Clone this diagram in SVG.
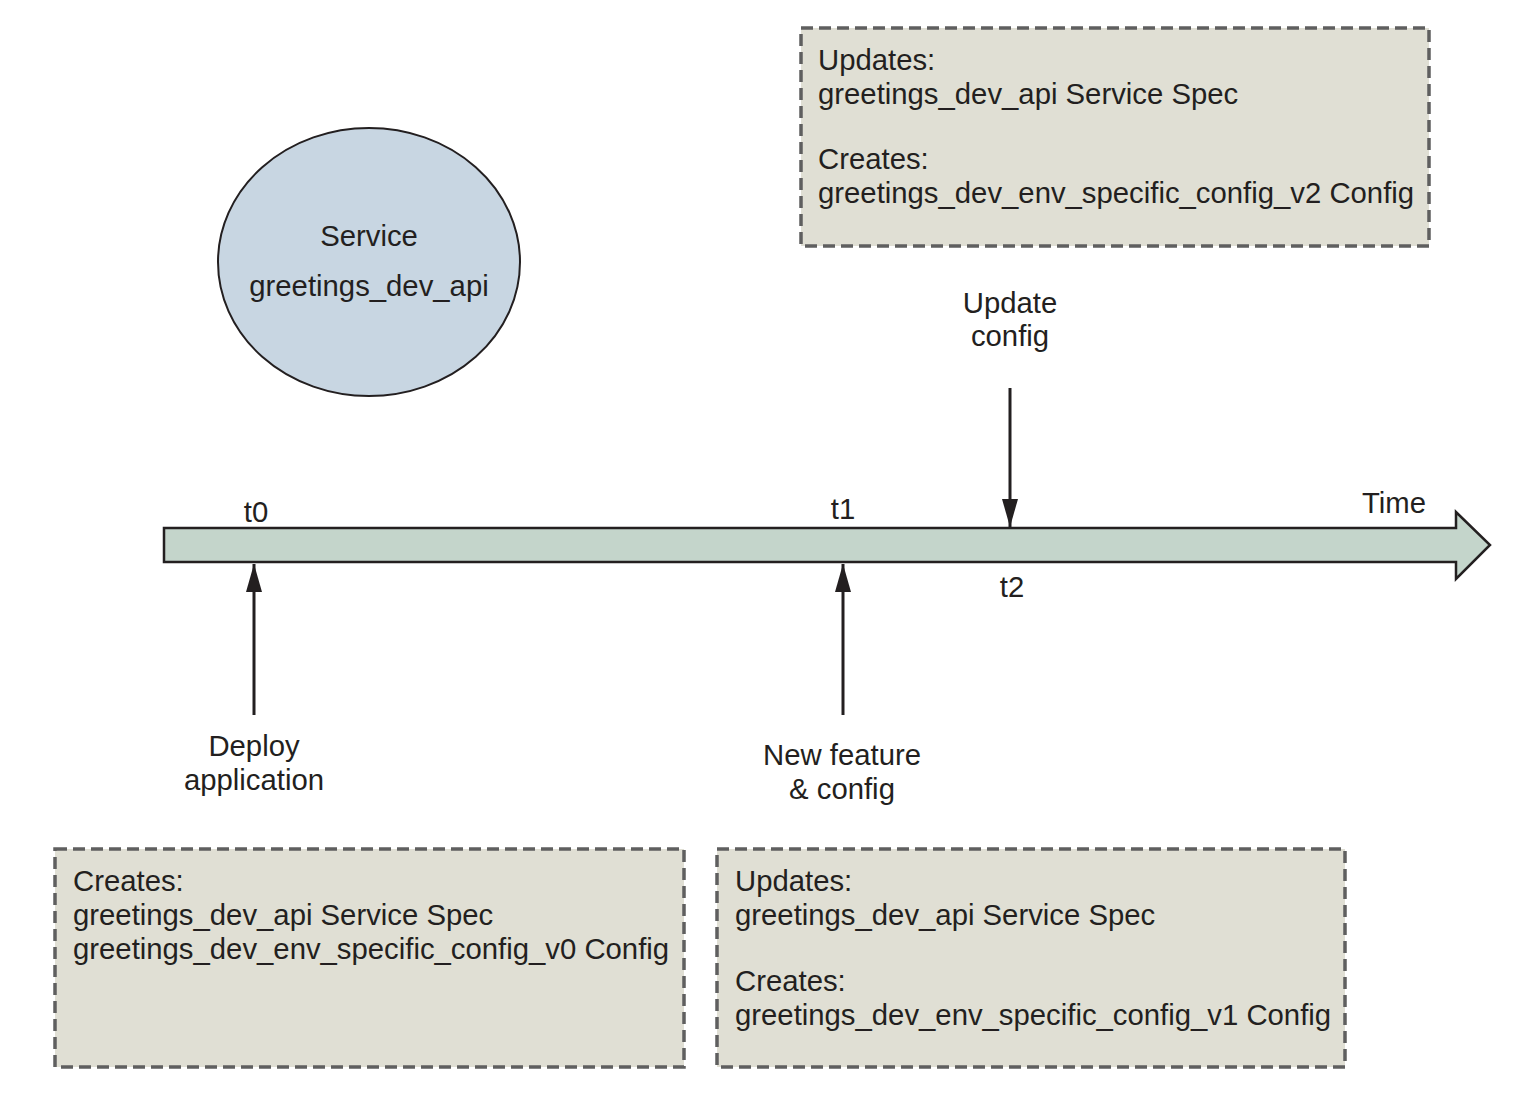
<svg xmlns="http://www.w3.org/2000/svg" width="1531" height="1095" viewBox="0 0 1531 1095">
<style>
text{font-family:"Liberation Sans",Arial,sans-serif;font-size:29.3px;fill:#231f20}
.c{text-anchor:middle}
.box{fill:#e0dfd4;stroke:#5f5f5f;stroke-width:3.5;stroke-dasharray:12 6}
.conn{stroke:#231f20;stroke-width:3;fill:none}
</style>
<defs>
<marker id="ah" markerWidth="28" markerHeight="16" refX="28" refY="8" orient="auto" markerUnits="userSpaceOnUse" viewBox="0 0 28 16">
<path d="M0,0 L28,8 L0,16 Z" fill="#231f20"/>
</marker>
</defs>
<rect width="1531" height="1095" fill="#fff"/>
<g id="service">
<ellipse cx="369" cy="262" rx="151" ry="134" fill="#c8d6e2" stroke="#231f20" stroke-width="2"/>
<text class="c" x="369" y="246">Service</text>
<text class="c" x="369" y="296">greetings_dev_api</text>
</g>
<g id="timeline">
<path d="M164,528 L1456,528 L1456,512 L1490,545 L1456,579 L1456,562 L164,562 Z" fill="#c4d5cb" stroke="#231f20" stroke-width="2.5"/>
<text class="c" x="1394" y="513">Time</text>
<text class="c" x="256" y="522">t0</text>
<text class="c" x="843" y="519">t1</text>
<text class="c" x="1012" y="597">t2</text>
</g>
<g id="connectors">
<line class="conn" x1="254" y1="715" x2="254" y2="564" marker-end="url(#ah)"/>
<line class="conn" x1="843" y1="715" x2="843" y2="564" marker-end="url(#ah)"/>
<line class="conn" x1="1010" y1="388" x2="1010" y2="527" marker-end="url(#ah)"/>
</g>
<g id="label-deploy">
<text class="c" x="254" y="756">Deploy</text>
<text class="c" x="254" y="790">application</text>
</g>
<g id="label-newfeature">
<text class="c" x="842" y="765">New feature</text>
<text class="c" x="842" y="799">&amp; config</text>
</g>
<g id="label-update">
<text class="c" x="1010" y="313">Update</text>
<text class="c" x="1010" y="346">config</text>
</g>
<g id="box-t2">
<rect class="box" x="801" y="28" width="628" height="218"/>
<text x="818" y="70">Updates:</text>
<text x="818" y="104">greetings_dev_api Service Spec</text>
<text x="818" y="169">Creates:</text>
<text x="818" y="203">greetings_dev_env_specific_config_v2 Config</text>
</g>
<g id="box-t0">
<rect class="box" x="55" y="849" width="629" height="218"/>
<text x="73" y="891">Creates:</text>
<text x="73" y="925">greetings_dev_api Service Spec</text>
<text x="73" y="959">greetings_dev_env_specific_config_v0 Config</text>
</g>
<g id="box-t1">
<rect class="box" x="717" y="849" width="628" height="218"/>
<text x="735" y="891">Updates:</text>
<text x="735" y="925">greetings_dev_api Service Spec</text>
<text x="735" y="991">Creates:</text>
<text x="735" y="1025">greetings_dev_env_specific_config_v1 Config</text>
</g>
</svg>
